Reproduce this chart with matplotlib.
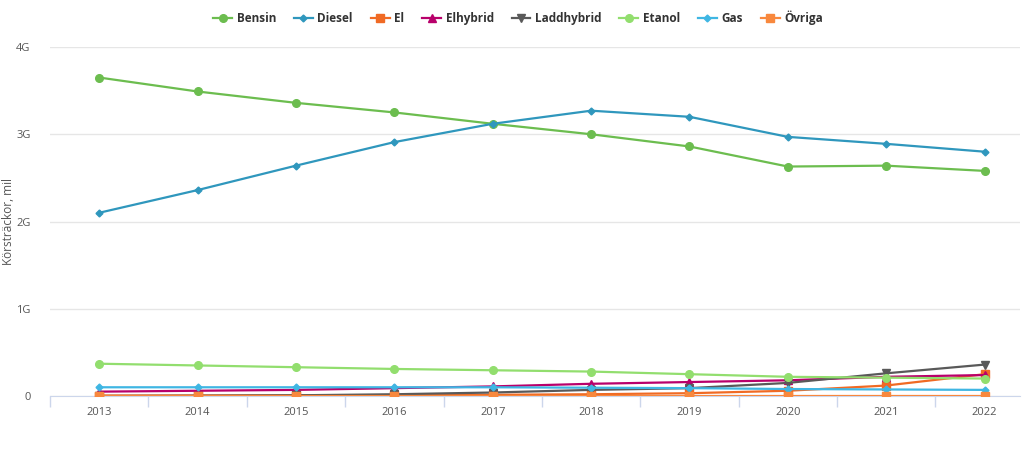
import matplotlib.pyplot as plt
from matplotlib.ticker import FixedLocator

years = [2013, 2014, 2015, 2016, 2017, 2018, 2019, 2020, 2021, 2022]

bensin = [3.65, 3.49, 3.36, 3.25, 3.12, 3.00, 2.86, 2.63, 2.64, 2.58]
diesel = [2.10, 2.36, 2.64, 2.91, 3.12, 3.27, 3.20, 2.97, 2.89, 2.80]
el = [0.005, 0.006, 0.008, 0.01, 0.014, 0.02, 0.032, 0.06, 0.12, 0.25]
elhybrid = [0.05, 0.06, 0.07, 0.09, 0.11, 0.14, 0.16, 0.18, 0.22, 0.24]
laddhybrid = [0.0, 0.003, 0.008, 0.02, 0.04, 0.07, 0.09, 0.15, 0.26, 0.36]
etanol = [0.37, 0.35, 0.33, 0.31, 0.295, 0.28, 0.25, 0.22, 0.21, 0.20]
gas = [0.10, 0.10, 0.10, 0.10, 0.10, 0.095, 0.09, 0.08, 0.075, 0.07]
ovriga = [0.003, 0.003, 0.003, 0.003, 0.003, 0.003, 0.003, 0.003, 0.003, 0.003]

series = [
    ("Bensin", bensin, "#6cbd4f", "o", 5.5),
    ("Diesel", diesel, "#2f97bd", "D", 3.5),
    ("El", el, "#f06a24", "s", 5.5),
    ("Elhybrid", elhybrid, "#b8006b", "^", 5.5),
    ("Laddhybrid", laddhybrid, "#595959", "v", 5.5),
    ("Etanol", etanol, "#92de6e", "o", 5.5),
    ("Gas", gas, "#3fb6e3", "D", 3.5),
    ("Övriga", ovriga, "#f8883d", "s", 5.5),
]

plt.rcParams['font.family'] = ['Open Sans', 'DejaVu Sans']

fig = plt.figure(figsize=(10.24, 4.62), dpi=100)
ax = fig.add_axes([50/1024, 66/462, 970/1024, 349/462])

for name, vals, col, mk, ms in series:
    ax.plot(years, [v * 1e9 for v in vals], color=col, marker=mk, markersize=ms,
            linewidth=1.6, label=name, zorder=3)

ax.set_xlim(2012.5, 2022.36)
ax.set_ylim(0, 4e9)
ax.set_yticks([0, 1e9, 2e9, 3e9, 4e9])
ax.set_yticklabels(["0", "1G", "2G", "3G", "4G"])
ax.set_xticks(years)
ax.set_xticklabels([str(y) for y in years])
ax.xaxis.set_minor_locator(FixedLocator([y + 0.5 for y in [2012] + years]))
ax.tick_params(axis='x', which='major', length=0, pad=8, labelsize=8, colors='#555555')
ax.tick_params(axis='x', which='minor', length=8, color='#ccd6eb', width=1)
ax.tick_params(axis='y', length=0, labelsize=8, colors='#555555', pad=14)
ax.grid(axis='y', color='#e6e6e6', linewidth=1)
for s in ['top', 'right', 'left']:
    ax.spines[s].set_visible(False)
ax.spines['bottom'].set_color('#ccd6eb')
ax.set_ylabel("Körsträckor, mil", fontsize=8.5, color='#555555')
ax.yaxis.set_label_coords(-0.036, 0.5)

leg = fig.legend(loc='upper center', ncol=8, bbox_to_anchor=(0.506, 1.0), frameon=False,
                 handlelength=1.6, columnspacing=1.5, handletextpad=0.4,
                 prop={'weight': 'bold', 'size': 8.5})
for t in leg.get_texts():
    t.set_color('#333333')

fig.savefig("out.png", dpi=100)
